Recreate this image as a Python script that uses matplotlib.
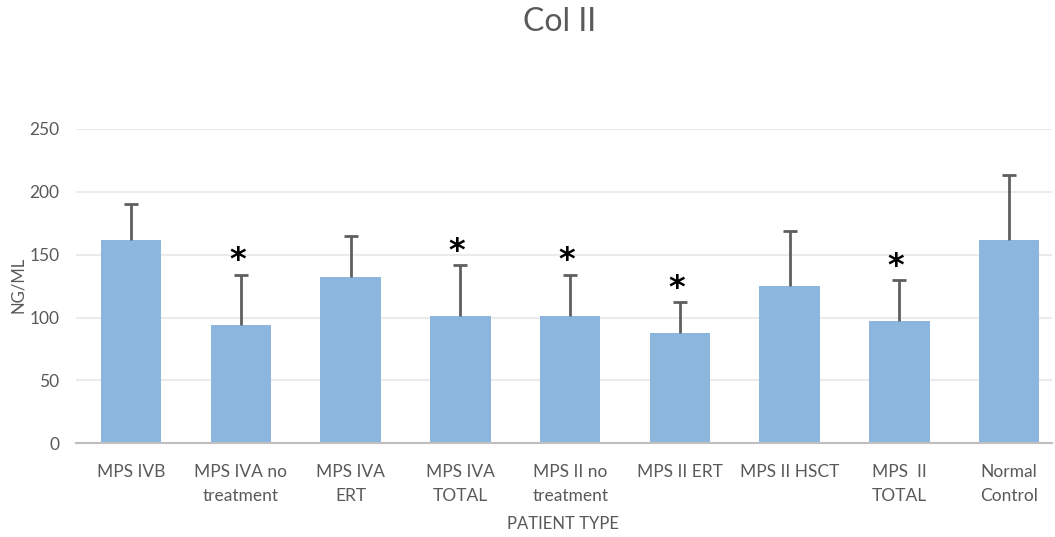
import matplotlib
matplotlib.use("Agg")
import matplotlib.pyplot as plt
import numpy as np

plt.rcParams['font.family'] = ['Lato', 'DejaVu Sans']

categories = ["MPS IVB", "MPS IVA no\ntreatment", "MPS IVA\nERT", "MPS IVA\nTOTAL",
              "MPS II no\ntreatment", "MPS II ERT", "MPS II HSCT", "MPS  II\nTOTAL",
              "Normal\nControl"]
means = [161.7, 93.8, 132.5, 101.5, 101.5, 88.0, 124.9, 97.5, 161.7]
sd_upper = [28.4, 40.3, 32.4, 40.1, 32.6, 24.4, 44.0, 32.4, 51.7]
significant = [False, True, False, True, True, True, False, True, False]
yticks = [0, 50, 100, 150, 200, 250]

text_color = "#595959"
bar_color = "#8DB6DE"

fig = plt.figure(figsize=(10.55, 5.37), dpi=100)
ax = fig.add_axes([76 / 1055, (537 - 443.3) / 537, (1052 - 76) / 1055, (443.3 - 129) / 537])

x = np.arange(len(categories))
ax.bar(x, means, width=0.55, color=bar_color, zorder=2)
_, caps, _ = ax.errorbar(x, means, yerr=[np.zeros(len(means)), sd_upper], fmt='none',
                         ecolor="#5F5F5F", elinewidth=2, capsize=5, capthick=2, zorder=3)
# one-sided bars: hide the cap at the bar top
caps[0].set_visible(False)

for xi, m, s, sig in zip(x, means, sd_upper, significant):
    if sig:
        ax.text(xi - 0.03, m + s + 11, "*", ha='center', va='center',
                fontsize=23, fontweight='bold', color='black',
                family='DejaVu Sans')

ax.set_xlim(-0.502, 8.39)
ax.set_ylim(0, 250)
ax.set_yticks(yticks)
ax.set_xticks(x)
ax.set_xticklabels(categories, fontsize=12.5, color=text_color, linespacing=1.6)
ax.tick_params(axis='both', length=0, colors=text_color, labelsize=12.5)
ax.tick_params(axis='x', pad=15)
ax.tick_params(axis='y', pad=12)
ax.grid(axis='y', color="#EBEBEB", linewidth=1.5, zorder=0)
ax.set_axisbelow(True)
for side in ['top', 'right', 'left']:
    ax.spines[side].set_visible(False)
ax.spines['bottom'].set_color("#BFBFBF")
ax.spines['bottom'].set_linewidth(1.5)

fig.text(563 / 1055, 1 - 524 / 537, "PATIENT TYPE", ha='center', va='center',
         fontsize=12, color=text_color)
fig.text(18 / 1055, 1 - 285 / 537, "NG/ML", ha='center', va='center',
         rotation=90, fontsize=12, color=text_color)
fig.text(560 / 1055, 1 - 22 / 537, "Col II", ha='center', va='center',
         fontsize=23, color=text_color)

fig.savefig("out.png", dpi=100, facecolor='white')
